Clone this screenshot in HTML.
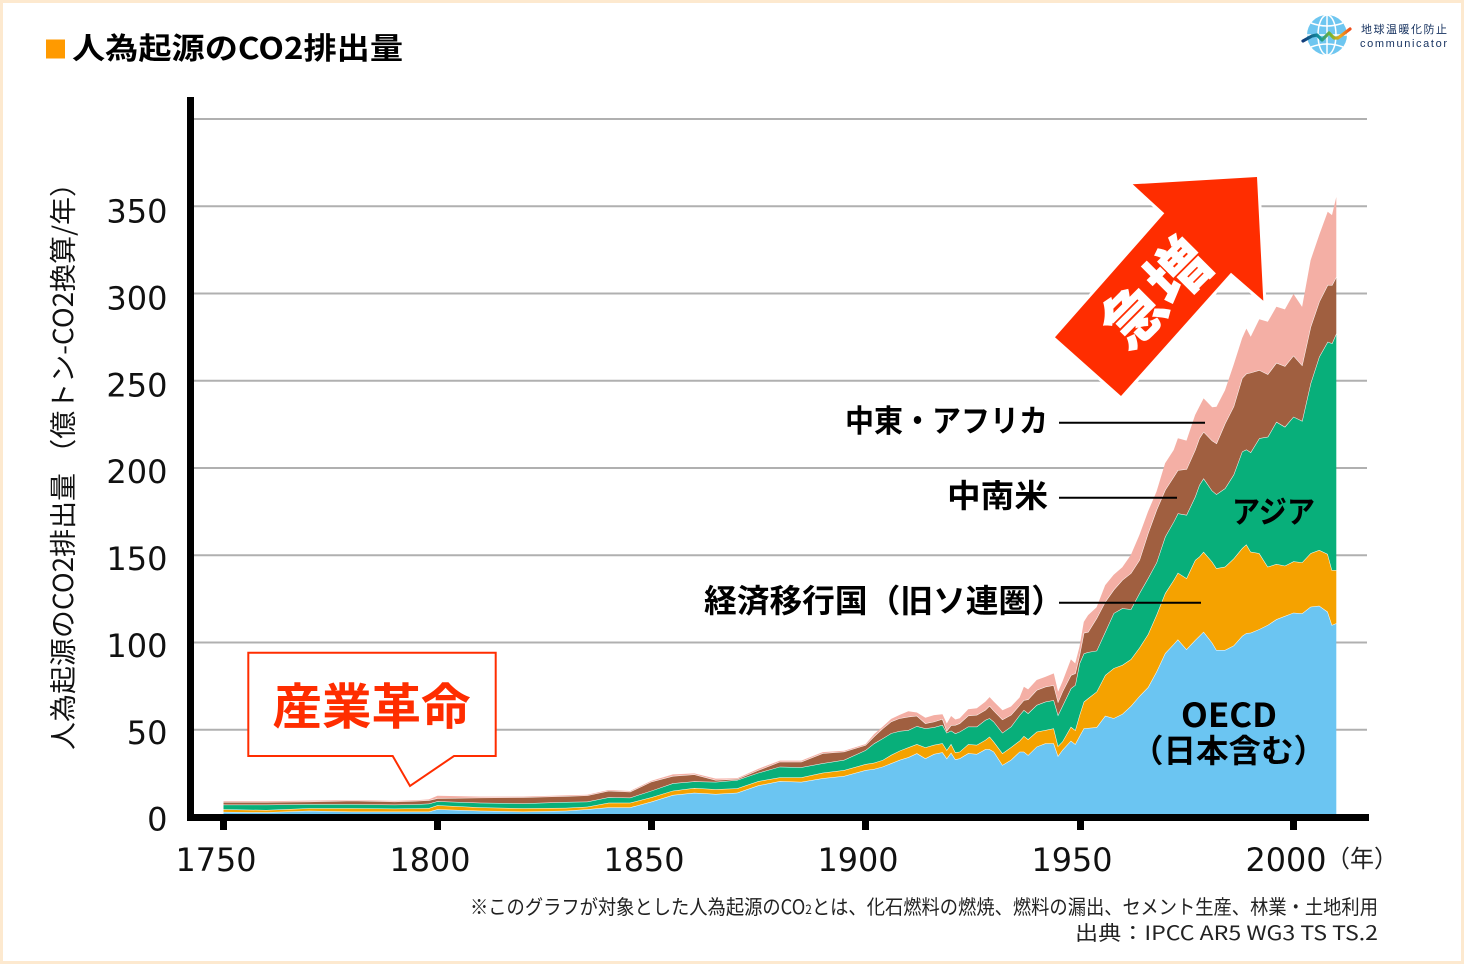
<!DOCTYPE html>
<html lang="ja">
<head>
<meta charset="utf-8">
<title>人為起源のCO2排出量</title>
<style>
html,body{margin:0;padding:0;background:#fff;}
#frame{position:relative;width:1464px;height:964px;overflow:hidden;background:#fff;}
svg{position:absolute;left:0;top:0;}
text{font-family:"Liberation Sans","Noto Sans CJK JP",sans-serif;fill:#000;}
.jb{font-family:"Noto Sans CJK JP","Liberation Sans",sans-serif;font-weight:700;}
.jr{font-family:"Noto Sans CJK JP","Liberation Sans",sans-serif;font-weight:400;}
.num{font-family:"DejaVu Sans","Liberation Sans",sans-serif;font-size:32px;fill:#111;}
</style>
</head>
<body>
<div id="frame">
<svg id="chart" width="1464" height="964" viewBox="0 0 1464 964">
  <rect x="1.5" y="1.5" width="1461" height="961" fill="#fff" stroke="#FDE9CF" stroke-width="3"/>
  <rect x="46" y="39.5" width="19" height="19" fill="#FF9A00"/>
  <text class="jb" x="72" y="59" font-size="30" textLength="331" lengthAdjust="spacingAndGlyphs">人為起源のCO2排出量</text>

  <g>
    <circle cx="1327" cy="35" r="20" fill="#6EC6F0"/>
    <g fill="none" stroke="#fff" stroke-width="1.5">
      <ellipse cx="1327" cy="35" rx="9" ry="20"/>
      <line x1="1327" y1="15" x2="1327" y2="55"/>
      <line x1="1307" y1="35" x2="1347" y2="35"/>
      <path d="M1311 23 Q1327 29 1343 23"/>
      <path d="M1311 47 Q1327 41 1343 47"/>
    </g>
    <defs>
      <linearGradient id="logoLine" x1="0" x2="1" y1="0" y2="0">
        <stop offset="0" stop-color="#123a7a"/>
        <stop offset="0.35" stop-color="#1296a0"/>
        <stop offset="0.6" stop-color="#7db52a"/>
        <stop offset="0.8" stop-color="#f2a51c"/>
        <stop offset="1" stop-color="#ef4d1c"/>
      </linearGradient>
    </defs>
    <path d="M1303 41 L1312 36 L1317 35 L1322 40 L1329 33 L1334 38 L1338 38 L1350 29" fill="none" stroke="url(#logoLine)" stroke-width="3.2" stroke-linecap="round" stroke-linejoin="round"/>
    <text class="jr" x="1361" y="33" font-size="11" textLength="86" style="fill:#14305e">地球温暖化防止</text>
    <text x="1360" y="47" font-size="11" textLength="87" style="fill:#14305e">communicator</text>
  </g>

  <g id="grid"></g>
  <g id="areas"></g>

  <g>
    <polygon points="1132.7,184.3 1257,177 1263.3,300.7 1231,272.7 1121,396 1055,337.3 1164.3,213.3" fill="#FF2D00" stroke="#fff" stroke-width="6" stroke-linejoin="miter" paint-order="stroke"/>
    <text class="jb" x="0" y="0" font-size="62" text-anchor="middle" transform="translate(1172,309) rotate(-45)" style="fill:#fff;font-weight:900">急増</text>
  </g>

  <g id="axes">
    <rect x="187" y="97" width="7" height="724" fill="#000"/>
    <rect x="187" y="814" width="1182" height="7" fill="#000"/>
  </g>
  <g id="xticks"></g>
  <g id="ylabels"></g>
  <g id="xlabels"></g>

  <text class="jr" x="0" y="0" font-size="27" transform="translate(73,750) rotate(-90)" textLength="581" lengthAdjust="spacingAndGlyphs" style="fill:#111">人為起源のCO2排出量 （億トン-CO2換算/年）</text>
  <text class="jr" x="1326" y="867" font-size="24" textLength="72" lengthAdjust="spacingAndGlyphs" style="fill:#222">（年）</text>

  <g>
    <line x1="1059" y1="422.7" x2="1205" y2="422.7" stroke="#000" stroke-width="2"/>
    <line x1="1059" y1="497.7" x2="1177" y2="497.7" stroke="#000" stroke-width="2"/>
    <line x1="1059" y1="602.7" x2="1201" y2="602.7" stroke="#000" stroke-width="2"/>
  </g>
  <text class="jb" x="845" y="432" font-size="31" textLength="203" lengthAdjust="spacingAndGlyphs">中東・アフリカ</text>
  <text class="jb" x="947" y="507" font-size="32" textLength="101" lengthAdjust="spacingAndGlyphs">中南米</text>
  <text class="jb" x="704" y="612" font-size="32" textLength="360" lengthAdjust="spacingAndGlyphs">経済移行国（旧ソ連圏）</text>
  <text class="jb" x="1232" y="523" font-size="31" textLength="83" lengthAdjust="spacingAndGlyphs">アジア</text>
  <text class="jb" x="1181" y="727" font-size="33" textLength="96" lengthAdjust="spacingAndGlyphs">OECD</text>
  <text class="jb" x="1131" y="762" font-size="32" textLength="195" lengthAdjust="spacingAndGlyphs">（日本含む）</text>

  <g>
    <path d="M248.3 652.7 H495.7 V756 H454 L410 786 L392.7 756 H248.3 Z" fill="#fff" stroke="#FF2D00" stroke-width="2"/>
    <text class="jb" x="272.5" y="724" font-size="49" textLength="198" lengthAdjust="spacingAndGlyphs" style="fill:#FF2D00">産業革命</text>
  </g>

  <text class="jr" x="470" y="914" font-size="20" textLength="908" lengthAdjust="spacingAndGlyphs" style="fill:#222">※このグラフが対象とした人為起源のCO<tspan font-size="13">2</tspan>とは、化石燃料の燃焼、燃料の漏出、セメント生産、林業・土地利用</text>
  <text class="jr" x="1075" y="940" font-size="20" textLength="303" lengthAdjust="spacingAndGlyphs" style="fill:#222">出典：IPCC AR5 WG3 TS TS.2</text>
</svg>
</div>
<script>
const years = [1750,1760,1770,1780,1790,1795,1798,1800,1810,1820,1830,1835,1840,1845,1850,1855,1860,1865,1870,1875,1880,1885,1890,1895,
  1900,1902,1904,1906,1908,1910,1912,1914,1916,1918,1919,1920,1921,1922,1924,1926,1928,1929,1930,1932,1934,1936,1937,1938,1940,1942,1944,1945,1946,1948,1949,
  1950,1951,1952,1954,1956,1958,1960,1962,1964,1966,1968,1970,1972,1973,1975,1977,1978,1979,1981,1982,1984,1986,1988,1989,1990,1992,1994,1996,1998,2000,2002,2004,2006,2008,2009,2010];
const oecd = [2.9,2.7,3.6,3.1,3.1,3.1,3.1,4.4,3.6,3.1,3.6,4.4,5.5,5.5,8.8,12.6,13.9,13.2,13.9,18.1,20.6,20.1,22.2,23.5,
  26.9,27.5,28.8,30.8,32.7,34.2,36.5,33.6,36.1,37.1,33.6,36.9,33.0,33.6,36.5,36.1,38.8,38.8,37.4,29.8,32.7,37.4,37.4,35.5,40.3,42.2,42.2,35.0,38.4,43.7,41.8,
  46.4,50.8,51.0,51.4,58.0,56.6,59.0,63.6,69.3,74.3,83.3,93.8,99.1,101.8,96.1,101.4,103.7,106.2,99.9,95.7,95.7,98.2,103.7,105.4,105.6,107.6,110.0,113.3,115.2,117.1,116.7,120.5,121.1,117.6,110.0,111.0];
const transition = [1.5,1.3,1.4,1.9,1.7,1.8,2.0,2.3,1.9,1.9,1.6,1.5,2.7,2.7,2.5,2.5,2.7,2.7,2.5,2.5,2.1,2.6,3.2,3.4,
  3.4,3.6,3.8,4.8,5.3,5.7,5.3,6.3,5.2,5.2,4.8,5.0,4.0,3.8,5.2,5.2,5.3,7.3,5.7,6.7,7.3,6.3,9.0,9.0,8.6,7.6,8.6,5.7,4.8,8.0,8.0,
  12.0,15.2,17.0,20.4,23.3,28.7,28.1,26.8,27.7,30.4,32.5,34.4,36.7,38.2,40.7,45.8,45.4,45.8,46.4,46.8,47.7,49.9,50.3,50.8,46.4,43.5,33.4,31.7,28.8,29.4,29.2,30.6,31.9,33.1,31.5,30.5];
const asia = [2.7,3.1,2.4,2.4,2.3,2.4,2.6,2.3,2.7,2.8,3.4,2.9,3.1,2.9,3.8,4.2,3.8,4.2,4.8,4.8,6.1,5.8,5.4,5.8,
  8.0,11.1,12.4,12.4,11.3,9.9,10.3,10.9,10.1,10.5,9.9,7.6,10.9,11.5,10.1,10.5,11.5,10.5,11.5,11.8,11.8,14.7,14.9,14.9,15.3,16.2,16.2,17.8,20.4,22.0,25.8,
  29.6,27.7,26.5,23.5,24.8,31.5,32.5,28.7,31.2,32.1,30.0,32.4,33.4,34.0,36.3,36.3,41.1,42.1,40.7,42.4,44.9,48.0,55.4,54.4,57.0,65.9,74.5,81.5,79.6,82.9,81.1,97.4,110.8,121.7,129.9,135.6];
const latinAmerica = [1.5,1.5,1.4,2.0,1.7,1.9,1.9,1.7,2.9,3.5,3.4,3.6,3.8,3.4,5.2,4.2,4.0,1.1,0.6,1.5,2.9,3.2,5.7,4.8,
  2.9,4.0,5.7,6.7,7.3,7.6,5.9,2.9,3.2,3.4,1.1,3.1,4.8,4.8,6.3,6.7,5.7,7.1,6.3,7.6,6.7,5.7,5.7,8.0,8.6,8.6,8.6,7.6,8.2,7.6,6.7,
  4.8,11.8,11.6,18.6,17.2,13.4,16.2,20.6,19.1,25.8,30.2,26.8,25.8,24.8,26.2,26.8,26.8,26.7,28.7,29.2,37.2,39.1,42.1,43.5,45.6,39.1,35.8,33.8,34.8,35.0,31.9,32.4,31.5,32.5,33.4,32.4];
const middleEastAfrica = [0.4,0.4,0.6,0.3,0.4,0.4,0.5,1.5,0.6,0.4,0.4,0.4,0.4,0.4,0.5,0.9,0.6,0.8,0.4,0.8,0.6,0.6,0.7,0.5,
  0.6,1.3,1.0,1.5,1.9,3.2,1.9,3.2,3.8,2.7,4.2,5.3,3.2,2.9,3.6,3.8,4.8,5.0,5.2,5.3,4.8,4.4,7.6,5.7,5.7,5.7,6.7,5.7,5.7,9.0,5.7,
  4.8,6.3,9.6,6.3,9.6,8.6,7.3,10.5,14.3,12.4,10.5,15.3,15.3,18.2,16.4,20.1,18.1,19.1,19.1,21.0,19.1,23.9,22.9,25.8,20.6,29.1,30.1,32.1,32.5,35.3,33.4,38.2,38.2,42.0,40.1,45.8];
const yTickValues = [0,50,100,150,200,250,300,350];
const gridValues = [50,100,150,200,250,300,350,400];
const xTickYears = [1750,1800,1850,1900,1950,2000];

const NS = 'http://www.w3.org/2000/svg';
function xScale(year){ return 223.5 + (year - 1750) * 4.28; }
function yScale(value){ return 817 - value * 1.745; }
function yLabelBaseline(value){ return 830.6 - value * 1.737; }
function make(tag, parent, attrs){
  const el = document.createElementNS(NS, tag);
  for (const k in attrs) el.setAttribute(k, attrs[k]);
  parent.appendChild(el);
  return el;
}

const gridGroup = document.getElementById('grid');
gridValues.forEach(function(v){
  const line = make('line', gridGroup, {x1:194, x2:1367, y1:yScale(v), y2:yScale(v), stroke:'#B0B0B0', 'stroke-width':2});
  
  
});

const layers = [
  {key:'oecd', values:oecd, color:'#6BC5F2'},
  {key:'transition-economies', values:transition, color:'#F5A200'},
  {key:'asia', values:asia, color:'#08AF7A'},
  {key:'latin-america', values:latinAmerica, color:'#A05F40'},
  {key:'middle-east-africa', values:middleEastAfrica, color:'#F4AFA5'}
];
const areaGroup = document.getElementById('areas');
let base = years.map(function(){ return 0; });
layers.forEach(function(layer, idx){
  const top = base.map(function(b, i){ return b + layer.values[i]; });
  const upper = years.map(function(y, i){ return xScale(y).toFixed(1) + ',' + yScale(top[i]).toFixed(1); });
  const lower = years.map(function(y, i){ return xScale(y).toFixed(1) + ',' + yScale(base[i]).toFixed(1); }).reverse();
  const area = make('polygon', areaGroup, {points: upper.concat(lower).join(' '), fill: layer.color});
  
  
  if (idx < layers.length - 1) {
    const edge = make('polyline', areaGroup, {points: upper.join(' '), fill:'none', stroke:'#fff', 'stroke-width':1});
    
    
  }
  base = top;
});

const xTickGroup = document.getElementById('xticks');
const xLabelGroup = document.getElementById('xlabels');
xTickYears.forEach(function(y){
  const tick = make('rect', xTickGroup, {x:xScale(y) - 3.5 + (y === 1950 ? 1 : 0), y:820, width:7, height:10, fill:'#000'});
  
  
  const label = make('text', xLabelGroup, {x:xScale(y) - 7.5, y:871, 'text-anchor':'middle', 'class':'num', textLength:81, lengthAdjust:'spacingAndGlyphs'});
  label.textContent = String(y);
  
  
});

const yLabelGroup = document.getElementById('ylabels');
yTickValues.forEach(function(v){
  const label = make('text', yLabelGroup, {x:167.5, y:yLabelBaseline(v), 'text-anchor':'end', 'class':'num'});
  label.textContent = String(v);
  
  
});
</script>
</body>
</html>
